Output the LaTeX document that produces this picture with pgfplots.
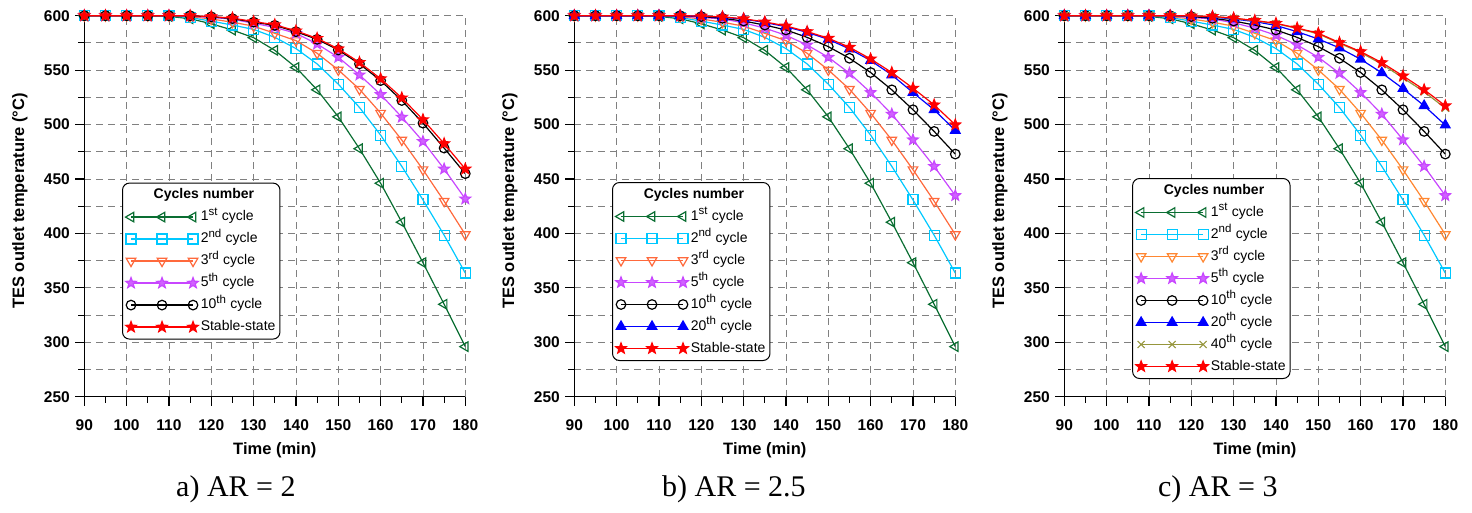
\documentclass[border=0pt]{standalone}
\usepackage{fontspec}
\setmainfont{Liberation Sans}
\newfontfamily\capfont{Liberation Serif}
\usepackage{pgfplots}
\usepackage{pgfplotstable}
\pgfplotsset{compat=1.18}

\definecolor{cgreen}{RGB}{10,110,50}
\definecolor{ccyan}{RGB}{0,200,255}
\definecolor{corange}{RGB}{255,105,60}
\definecolor{corangec}{RGB}{255,135,50}
\definecolor{cmag}{RGB}{200,70,255}
\definecolor{cblue}{RGB}{0,0,255}
\definecolor{colive}{RGB}{150,150,60}
\definecolor{cred}{RGB}{255,0,0}

\newcommand{\sps}[1]{\textsuperscript{\fontsize{11.5}{11.5}\selectfont #1}}

% filled five-pointed star
\pgfdeclareplotmark{pstar}{%
  \pgfpathmoveto{\pgfpointpolar{90}{\pgfplotmarksize}}%
  \pgfpathlineto{\pgfpointpolar{126}{0.42\pgfplotmarksize}}%
  \pgfpathlineto{\pgfpointpolar{162}{\pgfplotmarksize}}%
  \pgfpathlineto{\pgfpointpolar{198}{0.42\pgfplotmarksize}}%
  \pgfpathlineto{\pgfpointpolar{234}{\pgfplotmarksize}}%
  \pgfpathlineto{\pgfpointpolar{270}{0.42\pgfplotmarksize}}%
  \pgfpathlineto{\pgfpointpolar{306}{\pgfplotmarksize}}%
  \pgfpathlineto{\pgfpointpolar{342}{0.42\pgfplotmarksize}}%
  \pgfpathlineto{\pgfpointpolar{18}{\pgfplotmarksize}}%
  \pgfpathlineto{\pgfpointpolar{54}{0.42\pgfplotmarksize}}%
  \pgfpathclose\pgfusepathqfillstroke}

% AR = 2
\pgfplotstableread{
t   c1    c2    c3    c5    c10   cs
90  600   600   600   600   600   600
95  600   600   600   600   600   600
100 600   600   600   600   600   600
105 600   600   600   600   600   600
110 599.4 599.9 600   600   600   600
115 597.2 598.3 599.2 599.6 600   600
120 592.6 595.0 597.0 598.4 599.0 599.2
125 586.8 591.4 594.0 596.8 597.3 597.8
130 579.8 587.4 590.4 593.0 594.1 594.6
135 568.2 580.1 583.8 589.3 591.1 591.7
140 552.4 569.8 577.1 583.8 585.3 586.1
145 531.9 555.7 565.5 574.0 578.3 579.2
150 507.1 537.1 550.2 561.8 568.5 569.6
155 477.8 515.7 532.5 545.6 555.7 557.1
160 446.1 490.3 510.5 527.6 540.4 542.1
165 410.3 461.6 485.8 506.8 522.1 524.5
170 373.1 430.8 458.6 484.5 501.3 504.5
175 334.9 398.4 429.6 459.2 478.4 482.5
180 296.0 363.6 399.0 431.7 454.9 459.2
}\dataA

% AR = 2.5
\pgfplotstableread{
t   c1    c2    c3    c5    c10   c20   cs
90  600   600   600   600   600   600   600
95  600   600   600   600   600   600   600
100 600   600   600   600   600   600   600
105 600   600   600   600   600   600   600
110 599.4 599.9 600   600   600   600   600
115 597.2 598.3 599.2 599.6 600   600   600
120 592.6 595.0 597.0 598.4 599.2 599.6 599.7
125 586.8 591.4 594.0 597.0 597.6 598.6 598.9
130 579.8 587.4 590.4 593.5 595.1 596.9 597.2
135 568.2 580.1 583.8 588.6 591.4 593.8 594.3
140 552.4 569.8 577.1 582.0 586.9 589.9 590.6
145 531.9 555.7 565.5 573.1 580.1 584.7 585.4
150 507.1 537.1 550.2 561.8 571.6 578.3 579.3
155 477.8 515.7 532.5 547.2 560.9 569.5 571.0
160 446.1 490.3 510.5 529.4 547.8 558.8 560.3
165 410.3 461.6 485.8 509.6 531.9 545.6 547.8
170 373.1 430.8 458.6 486.0 513.6 529.4 533.4
175 334.9 398.4 429.6 461.6 493.7 513.6 518.1
180 296.0 363.6 399.0 434.8 472.9 494.6 499.8
}\dataB

% AR = 3
\pgfplotstableread{
t   c1    c2    c3    c5    c10   c20   c40   cs
90  600   600   600   600   600   600   600   600
95  600   600   600   600   600   600   600   600
100 600   600   600   600   600   600   600   600
105 600   600   600   600   600   600   600   600
110 599.4 599.9 600   600   600   600   600   600
115 597.2 598.3 599.2 599.6 600   600   600   600
120 592.6 595.0 597.0 598.4 599.2 599.6 599.8 599.8
125 586.8 591.4 594.0 597.0 597.6 598.7 599.2 599.3
130 579.8 587.4 590.4 593.5 595.1 597.0 597.6 597.8
135 568.2 580.1 583.8 588.6 591.4 594.6 595.3 595.6
140 552.4 569.8 577.1 582.0 586.9 591.0 592.6 593.0
145 531.9 555.7 565.5 573.1 580.1 585.3 588.3 588.7
150 507.1 537.1 550.2 561.8 571.6 578.6 583.3 583.9
155 477.8 515.7 532.5 547.2 560.9 570.4 574.6 575.3
160 446.1 490.3 510.5 529.4 547.8 560.0 566.2 567.0
165 410.3 461.6 485.8 509.6 531.9 547.5 555.5 556.9
170 373.1 430.8 458.6 486.0 513.6 533.0 542.9 544.7
175 334.9 398.4 429.6 461.6 493.7 517.3 530.1 532.0
180 296.0 363.6 399.0 434.8 472.9 499.5 515.1 517.3
}\dataC

\tikzset{every mark/.append style={sharp corners}}

\pgfplotsset{
  panel/.style={
    scale only axis, width=381pt, height=381pt, anchor=south west,
    clip mode=individual,
    xmin=90, xmax=180, ymin=250, ymax=600,
    xtick={90,100,...,180}, ytick={250,300,...,600},
    minor x tick num=1, minor y tick num=1,
    axis x line*=bottom, axis y line*=left,
    tick align=outside, major tick length=9pt, minor tick length=6pt,
    xmajorgrids, ymajorgrids, yminorgrids,
    grid style={black!50, line width=0.9pt, dash pattern=on 7pt off 5pt},
    axis line style={line width=1.2pt},
    every tick/.style={line width=1.1pt, black},
    /pgf/number format/assume math mode=true,
    ticklabel style={font=\bfseries\fontsize{15.5}{15.5}\selectfont},
    xticklabel style={yshift=-10pt},
    yticklabel style={xshift=-2pt},
    xlabel={Time (min)},
    ylabel={TES outlet temperature (°C)},
    label style={font=\bfseries\fontsize{16.5}{16.5}\selectfont},
    xlabel style={at={(axis description cs:0.5,-0.153)}, anchor=base},
    ylabel style={at={(axis description cs:-0.169,0.514)}, anchor=center},
    legend cell align=left,
    legend style={anchor=north west, draw=black, line width=1pt,
      rounded corners=7pt, font=\fontsize{14}{14}\selectfont,
      inner sep=3pt, row sep=4pt, column sep=1pt,
      nodes={inner sep=1.5pt, text height=11pt, text depth=4pt}},
    legend image code/.code={%
      \draw[mark repeat=1, mark phase=1, sharp corners, #1]
        plot coordinates {(0pt,0pt) (31pt,0pt) (62pt,0pt)};},
  },
  s1/.style={cgreen, line width=1.2pt, mark=triangle, mark size=5.5pt, mark options={rotate=90, solid}},
  s2/.style={ccyan, line width=1.2pt, mark=square, mark size=5pt},
  s3/.style={corange, line width=1.2pt, mark=triangle, mark size=5.5pt, mark options={rotate=180}},
  s5/.style={cmag, line width=1.2pt, mark=pstar, mark size=5.5pt, mark options={fill=cmag!85}},
  s10/.style={black, line width=1.2pt, mark=o, mark size=4.8pt},
  s20/.style={cblue, line width=1.2pt, mark=triangle*, mark size=5.5pt},
  s40/.style={colive, line width=1.2pt, mark=x, mark size=5pt},
  ss/.style={cred, line width=1.2pt, mark=pstar, mark size=5.5pt, mark options={fill=cred}},
}

\begin{document}
\begin{tikzpicture}
\useasboundingbox (0,0) rectangle (1472pt,512pt);

% ---------- a) AR = 2
\begin{axis}[panel, at={(84.3pt,115.3pt)},
  legend style={at={(axis description cs:0.099,0.562)}}]
\addlegendimage{empty legend}
\addlegendentry{\hspace*{-47pt}\textbf{Cycles number}}
\addplot[s1] table[x=t, y=c1] {\dataA}; \addlegendentry{1\sps{st} cycle}
\addplot[s2] table[x=t, y=c2] {\dataA}; \addlegendentry{2\sps{nd} cycle}
\addplot[s3] table[x=t, y=c3] {\dataA}; \addlegendentry{3\sps{rd} cycle}
\addplot[s5] table[x=t, y=c5] {\dataA}; \addlegendentry{5\sps{th} cycle}
\addplot[s10] table[x=t, y=c10] {\dataA}; \addlegendentry{10\sps{th} cycle}
\addplot[ss] table[x=t, y=cs] {\dataA}; \addlegendentry{Stable-state}
\node[font=\capfont\fontsize{30}{30}\selectfont, anchor=base]
  at (axis description cs:0.398,-0.263) {a) AR = 2};
\end{axis}

% ---------- b) AR = 2.5
\begin{axis}[panel, at={(574.3pt,115.3pt)},
  legend style={at={(axis description cs:0.099,0.5635)}}]
\addlegendimage{empty legend}
\addlegendentry{\hspace*{-47pt}\textbf{Cycles number}}
\addplot[s1] table[x=t, y=c1] {\dataB}; \addlegendentry{1\sps{st} cycle}
\addplot[s2] table[x=t, y=c2] {\dataB}; \addlegendentry{2\sps{nd} cycle}
\addplot[s3] table[x=t, y=c3] {\dataB}; \addlegendentry{3\sps{rd} cycle}
\addplot[s5] table[x=t, y=c5] {\dataB}; \addlegendentry{5\sps{th} cycle}
\addplot[s10] table[x=t, y=c10] {\dataB}; \addlegendentry{10\sps{th} cycle}
\addplot[s20] table[x=t, y=c20] {\dataB}; \addlegendentry{20\sps{th} cycle}
\addplot[ss] table[x=t, y=cs] {\dataB}; \addlegendentry{Stable-state}
\node[font=\capfont\fontsize{30}{30}\selectfont, anchor=base]
  at (axis description cs:0.419,-0.263) {b) AR = 2.5};
\end{axis}

% ---------- c) AR = 3
\begin{axis}[panel, at={(1064.3pt,115.3pt)},
  legend style={at={(axis description cs:0.178,0.574)}}]
\addlegendimage{empty legend}
\addlegendentry{\hspace*{-47pt}\textbf{Cycles number}}
\addplot[s1] table[x=t, y=c1] {\dataC}; \addlegendentry{1\sps{st} cycle}
\addplot[s2] table[x=t, y=c2] {\dataC}; \addlegendentry{2\sps{nd} cycle}
\addplot[s3, corangec] table[x=t, y=c3] {\dataC}; \addlegendentry{3\sps{rd} cycle}
\addplot[s5] table[x=t, y=c5] {\dataC}; \addlegendentry{5\sps{th} cycle}
\addplot[s10] table[x=t, y=c10] {\dataC}; \addlegendentry{10\sps{th} cycle}
\addplot[s20] table[x=t, y=c20] {\dataC}; \addlegendentry{20\sps{th} cycle}
\addplot[s40] table[x=t, y=c40] {\dataC}; \addlegendentry{40\sps{th} cycle}
\addplot[ss] table[x=t, y=cs] {\dataC}; \addlegendentry{Stable-state}
\node[font=\capfont\fontsize{30}{30}\selectfont, anchor=base]
  at (axis description cs:0.403,-0.263) {c) AR = 3};
\end{axis}
\end{tikzpicture}
\end{document}
